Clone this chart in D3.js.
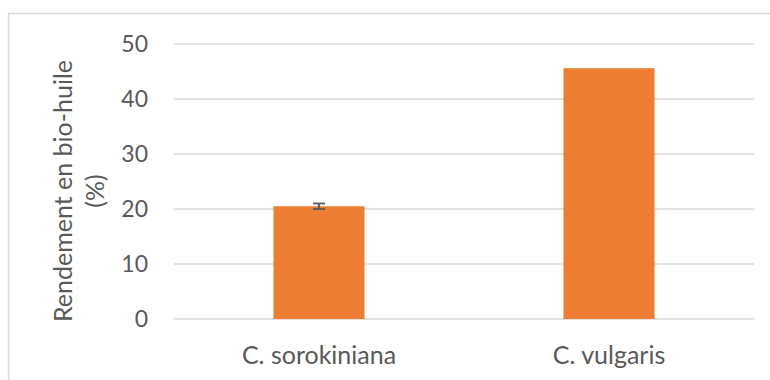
<!DOCTYPE html>
<html>
<head>
<meta charset="utf-8">
<script src="https://cdn.jsdelivr.net/npm/d3@7"></script>
<style>
  html, body { margin: 0; padding: 0; background: #fff; }
  svg { display: block; }
  text { font-family: Lato, "Open Sans", sans-serif; fill: #595959; }
</style>
</head>
<body>
<svg id="chart" width="770" height="380"></svg>
<script>
const categories = ["C. sorokiniana", "C. vulgaris"];
const values = [20.5, 45.6];
const errors = [0.5, null];
const yTicks = [0, 10, 20, 30, 40, 50];
const yTitleLines = ["Rendement en bio-huile", "(%)"];

const svg = d3.select("#chart");
const plot = { left: 174, right: 754, top: 44, bottom: 319 };

// chart area border
svg.append("rect")
  .attr("x", 8.5).attr("y", 13.5)
  .attr("width", 800).attr("height", 400)
  .attr("fill", "none").attr("stroke", "#D9D9D9").attr("stroke-width", 1.5);

const x = d3.scaleBand()
  .domain(categories)
  .range([plot.left, plot.right])
  .paddingInner(0.686)
  .paddingOuter(0.343);

const y = d3.scaleLinear().domain([0, 50]).range([plot.bottom, plot.top]);

// gridlines
svg.append("g").selectAll("line")
  .data(yTicks)
  .join("line")
  .attr("x1", plot.left).attr("x2", plot.right)
  .attr("y1", d => y(d)).attr("y2", d => y(d))
  .attr("stroke", "#D9D9D9").attr("stroke-width", 1.5);

// y axis labels
const yAxis = d3.axisLeft(y).tickValues(yTicks).tickSize(0).tickPadding(0);
const gy = svg.append("g").attr("transform", `translate(148,0)`).call(yAxis);
gy.select(".domain").remove();
gy.selectAll("text")
  .style("font-family", "Lato, 'Open Sans', sans-serif")
  .style("font-size", "23px")
  .attr("fill", "#595959");

// bars
svg.append("g").selectAll("rect")
  .data(categories)
  .join("rect")
  .attr("x", d => x(d))
  .attr("width", x.bandwidth())
  .attr("y", (d, i) => y(values[i]))
  .attr("height", (d, i) => y(0) - y(values[i]))
  .attr("fill", "#ED7D31");

// error bars
const eg = svg.append("g").attr("stroke", "#595959").attr("stroke-width", 1.8);
categories.forEach((c, i) => {
  if (errors[i] == null) return;
  const cx = x(c) + x.bandwidth() / 2;
  const y1 = y(values[i] - errors[i]), y2 = y(values[i] + errors[i]);
  eg.append("line").attr("x1", cx).attr("x2", cx).attr("y1", y1).attr("y2", y2);
  eg.append("line").attr("x1", cx - 6).attr("x2", cx + 6).attr("y1", y1).attr("y2", y1);
  eg.append("line").attr("x1", cx - 6).attr("x2", cx + 6).attr("y1", y2).attr("y2", y2);
});

// x axis labels
const xAxis = d3.axisBottom(x).tickSize(0).tickPadding(0);
const gx = svg.append("g").attr("transform", `translate(0,${plot.bottom + 45})`).call(xAxis);
gx.select(".domain").remove();
gx.selectAll("text")
  .attr("dy", "0")
  .style("font-family", "Lato, 'Open Sans', sans-serif")
  .style("font-size", "25px")
  .attr("fill", "#595959");

// y title
const yt = svg.append("text")
  .attr("transform", `translate(72,191) rotate(-90)`)
  .attr("text-anchor", "middle")
  .style("font-size", "25px");
yTitleLines.forEach((t, i) => {
  yt.append("tspan").attr("x", 0).attr("dy", i === 0 ? 0 : 32).text(t);
});
</script>
</body>
</html>
